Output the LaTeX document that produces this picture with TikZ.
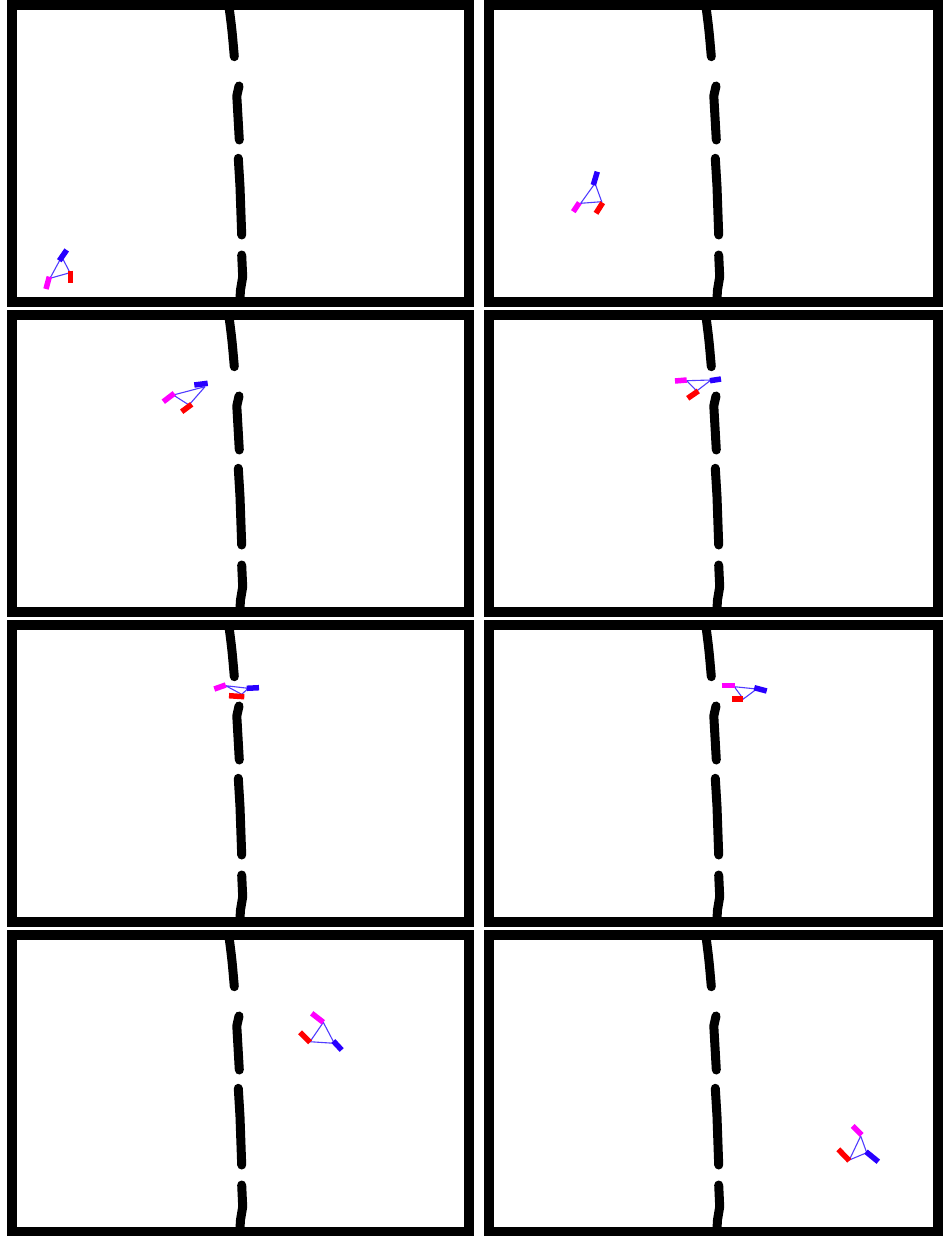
\documentclass[tikz,border=0pt]{standalone}
\begin{document}
\begin{tikzpicture}[x=1pt,y=-1pt,
  frame/.style={draw=black,line width=10pt},
  wall/.style={draw=black,line width=9pt,line cap=round,line join=round},
  link/.style={draw={rgb,255:red,80;green,60;blue,255},line width=1.1pt},
  wblue/.style={draw={rgb,255:red,40;green,0;blue,255},line width=5.5pt},
  wmag/.style={draw={rgb,255:red,255;green,0;blue,255},line width=5.5pt},
  wred/.style={draw={rgb,255:red,255;green,0;blue,0},line width=5.5pt}]
\useasboundingbox (0,0) rectangle (943,1236);
\fill[white] (0,0) rectangle (943,1236);
% panels
\foreach \px/\py/\w in {7/0/467,484/0/459,7/310/467,484/310/459,7/620/467,484/620/459,7/930/467,484/930/459}{
  \begin{scope}[shift={(\px,\py)}]
    \draw[frame] (5,5) rectangle (\w-5,302);
    \draw[wall] (222.3,9) .. controls (225,30) .. (227.3,56.7);
    \draw[wall] (232,86) -- (229.8,96) -- (232.3,140);
    \draw[wall] (231.3,158.3) -- (233,186.7) -- (234.7,235);
    \draw[wall] (234.7,255) -- (235.7,276.7) -- (233.5,290) -- (233,298);
  \end{scope}
}
% robot 1
\coordinate (a1) at (61.7,256.7); \coordinate (b1) at (50,278.3); \coordinate (c1) at (70,272.7);
\coordinate (bs1) at (59.3,260.7); \coordinate (be1) at (66.7,250);
\coordinate (ms1) at (46,289); \coordinate (me1) at (49.3,276.7);
\coordinate (rs1) at (70.7,270.5); \coordinate (re1) at (70.7,283);
\draw[link] (a1) -- (b1) -- (c1) -- (a1);
\draw[wblue] (bs1) -- (be1); \draw[wmag] (ms1) -- (me1); \draw[wred] (rs1) -- (re1);
% robot 2
\coordinate (a2) at (595,183.3); \coordinate (b2) at (580.7,203.3); \coordinate (c2) at (601.7,201.7);
\coordinate (bs2) at (593.3,185); \coordinate (be2) at (597.3,171.7);
\coordinate (ms2) at (573.3,211.7); \coordinate (me2) at (579.3,202.7);
\coordinate (rs2) at (596,213.3); \coordinate (re2) at (602.7,202.7);
\draw[link] (a2) -- (b2) -- (c2) -- (a2);
\draw[wblue] (bs2) -- (be2); \draw[wmag] (ms2) -- (me2); \draw[wred] (rs2) -- (re2);
% robot 3
\coordinate (a3) at (205,386.7); \coordinate (b3) at (173.3,395); \coordinate (c3) at (189,405);
\coordinate (bs3) at (194.3,385); \coordinate (be3) at (207.7,383.3);
\coordinate (ms3) at (163.3,401.7); \coordinate (me3) at (174.3,393.3);
\coordinate (rs3) at (181.7,411.7); \coordinate (re3) at (191.7,404.3);
\draw[link] (a3) -- (b3) -- (c3) -- (a3);
\draw[wblue] (bs3) -- (be3); \draw[wmag] (ms3) -- (me3); \draw[wred] (rs3) -- (re3);
% robot 4
\coordinate (a4) at (711,380); \coordinate (b4) at (686.7,380.7); \coordinate (c4) at (696.7,391);
\coordinate (bs4) at (710,380.7); \coordinate (be4) at (721,379);
\coordinate (ms4) at (675,381); \coordinate (me4) at (686.7,380);
\coordinate (rs4) at (687.7,398.3); \coordinate (re4) at (698.3,391);
\draw[link] (a4) -- (b4) -- (c4) -- (a4);
\draw[wblue] (bs4) -- (be4); \draw[wmag] (ms4) -- (me4); \draw[wred] (rs4) -- (re4);
% robot 5
\coordinate (a5) at (248.3,688.3); \coordinate (b5) at (225.7,685.7); \coordinate (c5) at (241.7,694.3);
\coordinate (bs5) at (246.7,688.3); \coordinate (be5) at (259,687.7);
\coordinate (ms5) at (214.3,689); \coordinate (me5) at (225.7,685);
\coordinate (rs5) at (229,695.7); \coordinate (re5) at (244.3,696.7);
\draw[link] (a5) -- (b5) -- (c5) -- (a5);
\draw[wblue] (bs5) -- (be5); \draw[wmag] (ms5) -- (me5); \draw[wred] (rs5) -- (re5);
% robot 6
\coordinate (a6) at (756.7,689); \coordinate (b6) at (734.3,686.7); \coordinate (c6) at (743.3,699);
\coordinate (bs6) at (754.3,687.7); \coordinate (be6) at (766.7,691);
\coordinate (ms6) at (721.7,685.7); \coordinate (me6) at (735,685.7);
\coordinate (rs6) at (732.3,699); \coordinate (re6) at (743.3,699);
\draw[link] (a6) -- (b6) -- (c6) -- (a6);
\draw[wblue] (bs6) -- (be6); \draw[wmag] (ms6) -- (me6); \draw[wred] (rs6) -- (re6);
% robot 7
\coordinate (a7) at (323.3,1022.3); \coordinate (b7) at (310,1041.7); \coordinate (c7) at (334.3,1043.3);
\coordinate (bs7) at (333.3,1041); \coordinate (be7) at (341.7,1050);
\coordinate (ms7) at (311.7,1013.3); \coordinate (me7) at (323.3,1022.3);
\coordinate (rs7) at (300,1032.3); \coordinate (re7) at (310,1042.3);
\draw[link] (a7) -- (b7) -- (c7) -- (a7);
\draw[wblue] (bs7) -- (be7); \draw[wmag] (ms7) -- (me7); \draw[wred] (rs7) -- (re7);
% robot 8
\coordinate (a8) at (860.7,1136); \coordinate (b8) at (849.3,1160); \coordinate (c8) at (866.7,1152.7);
\coordinate (bs8) at (866,1151.7); \coordinate (be8) at (878.3,1161.7);
\coordinate (ms8) at (852.7,1126); \coordinate (me8) at (861.7,1135);
\coordinate (rs8) at (838.3,1149.3); \coordinate (re8) at (849.3,1160.7);
\draw[link] (a8) -- (b8) -- (c8) -- (a8);
\draw[wblue] (bs8) -- (be8); \draw[wmag] (ms8) -- (me8); \draw[wred] (rs8) -- (re8);
\end{tikzpicture}
\end{document}
